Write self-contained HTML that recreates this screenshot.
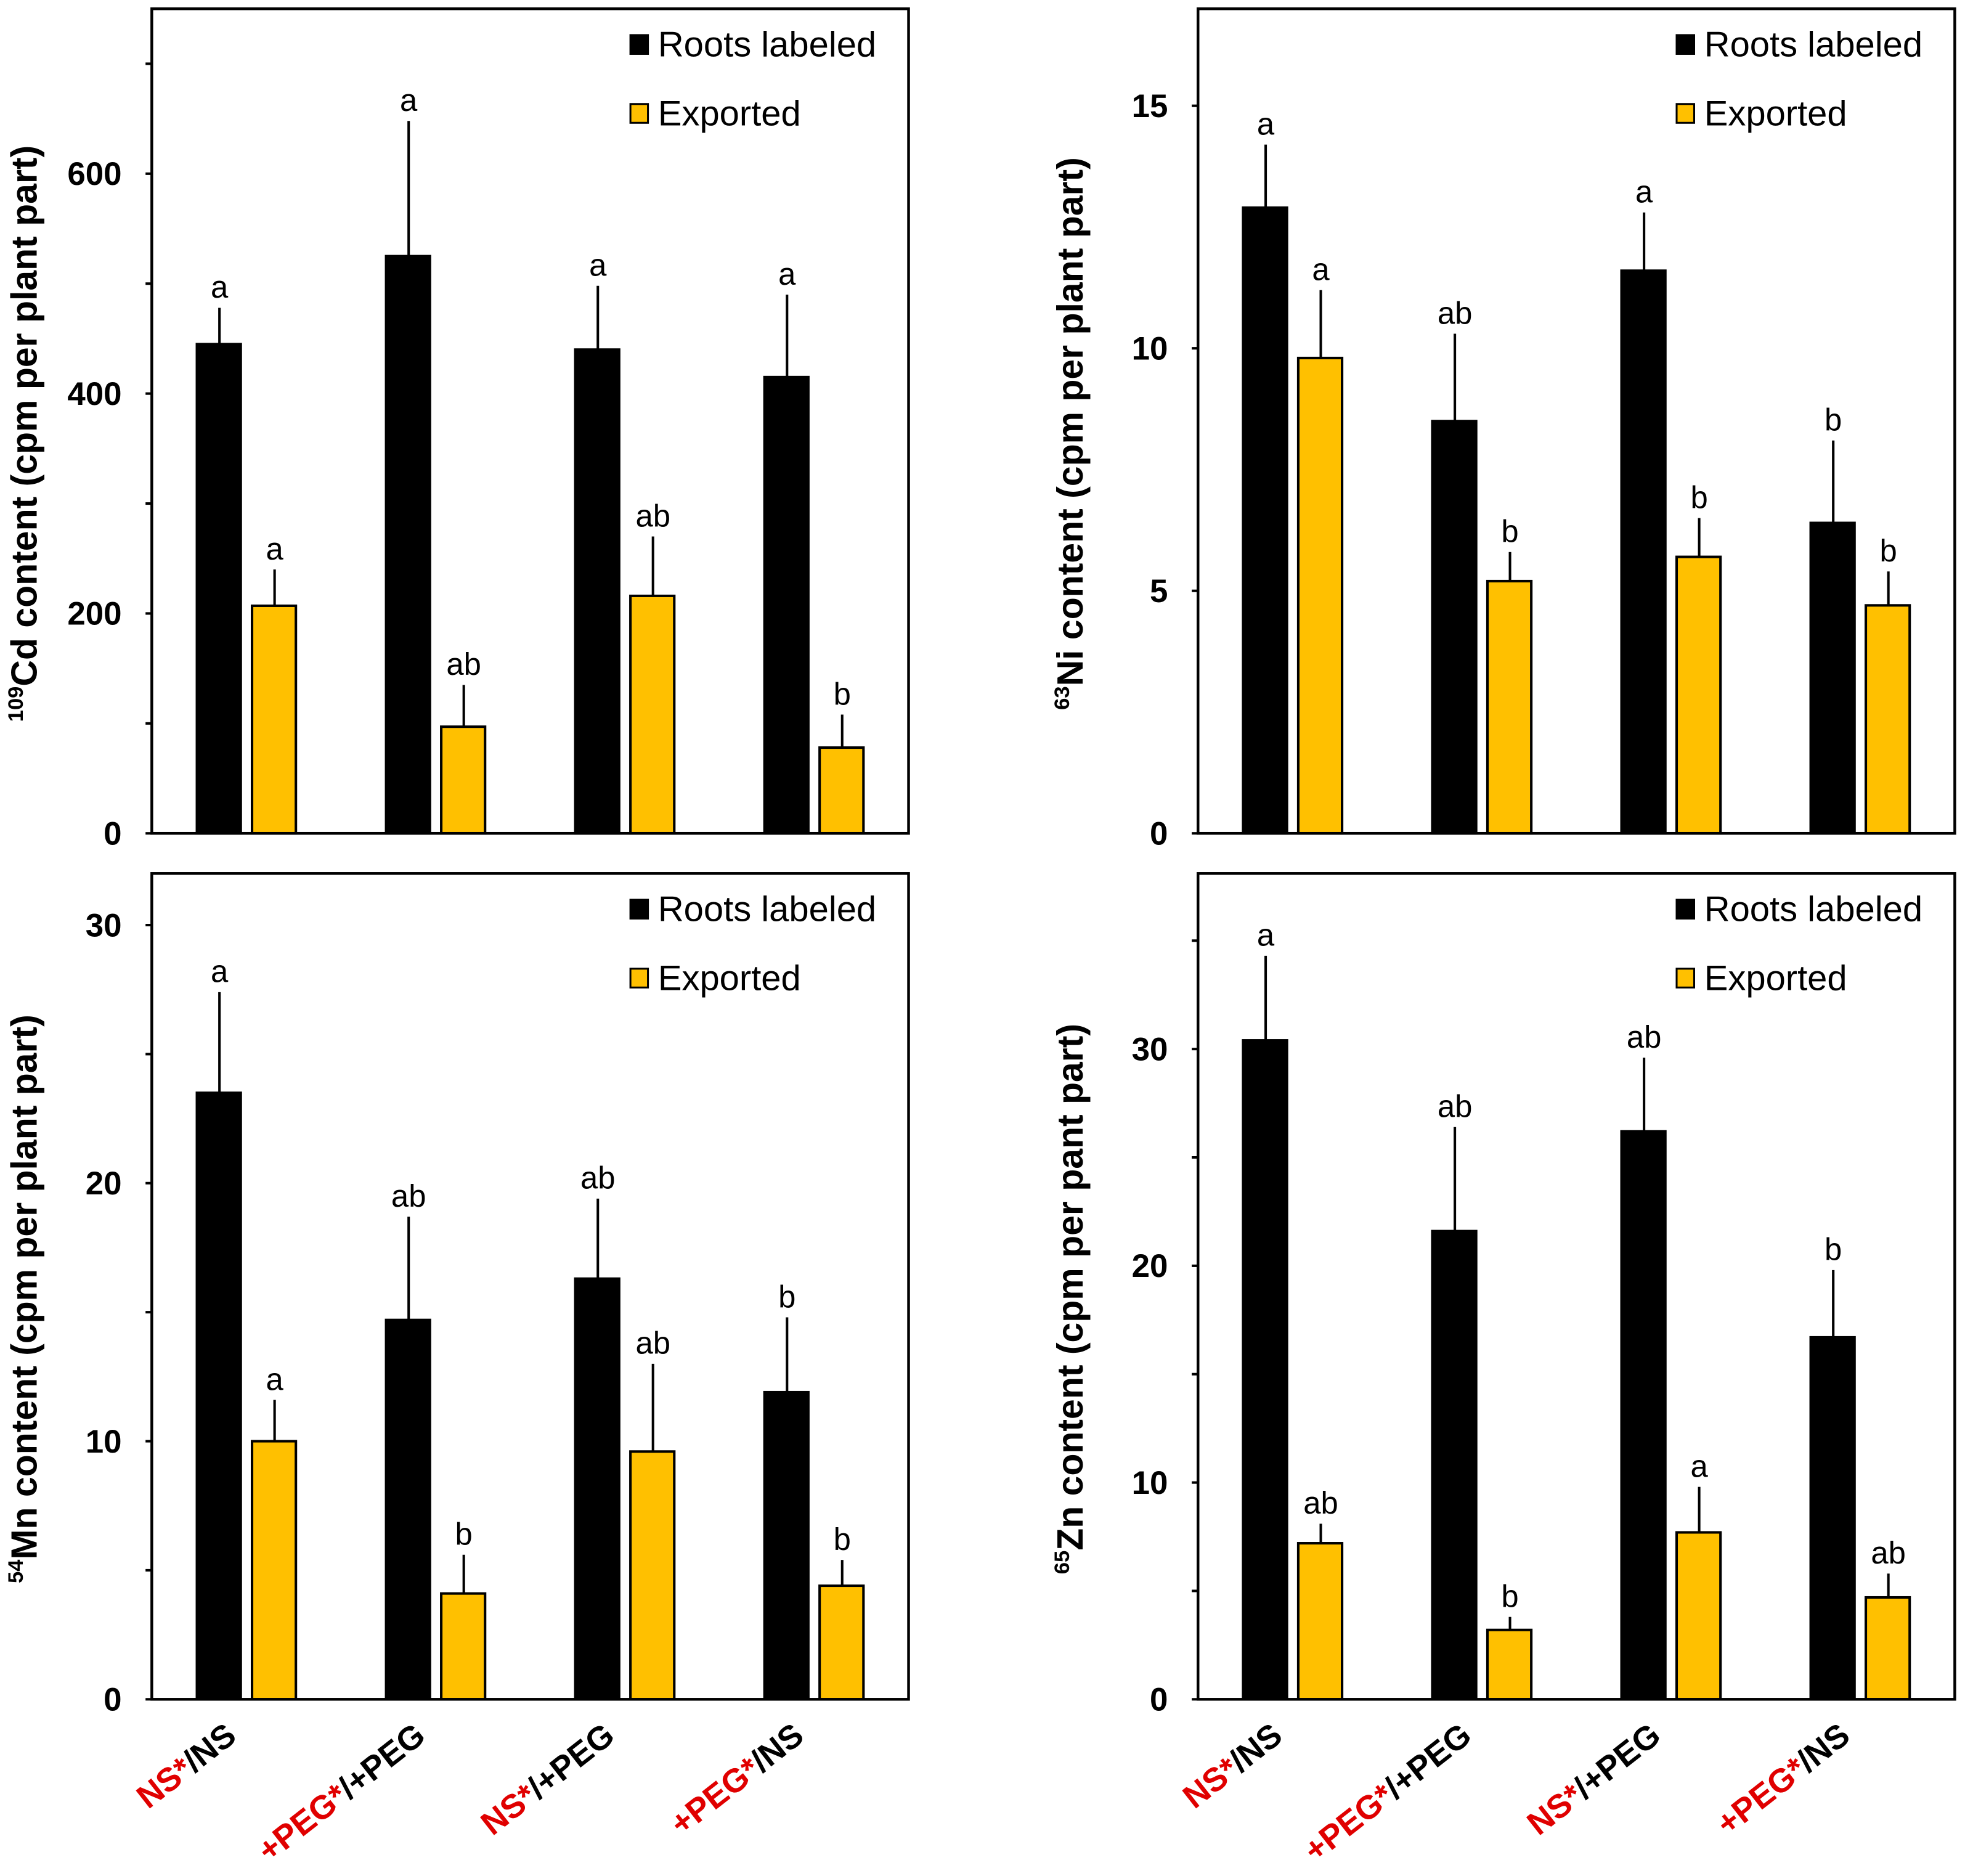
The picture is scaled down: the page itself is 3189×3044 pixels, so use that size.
<!DOCTYPE html>
<html><head><meta charset="utf-8"><style>html,body{margin:0;padding:0;background:#fff}svg{display:block}</style></head>
<body>
<svg id="fig" xmlns="http://www.w3.org/2000/svg" width="3189" height="3044" viewBox="0 0 1568 1497" font-family="'Liberation Sans', Arial, sans-serif"></svg>
<script>
const categories = ["NS*/NS", "+PEG*/+PEG", "NS*/+PEG", "+PEG*/NS"];
const cdRoots = [445, 525, 440, 415];
const cdRootsErr = [33, 123, 58, 75];
const cdExp = [207, 97, 216, 78];
const cdExpErr = [33, 38, 54, 30];
const cdRootsLetters = ["a","a","a","a"];
const cdExpLetters = ["a","ab","ab","b"];
const niRoots = [12.9, 8.5, 11.6, 6.4];
const niRootsErr = [1.3, 1.8, 1.2, 1.7];
const niExp = [9.8, 5.2, 5.7, 4.7];
const niExpErr = [1.4, 0.6, 0.8, 0.7];
const niRootsLetters = ["a","ab","a","b"];
const niExpLetters = ["a","b","b","b"];
const mnRoots = [23.5, 14.7, 16.3, 11.9];
const mnRootsErr = [3.9, 4.0, 3.1, 2.9];
const mnExp = [10.0, 4.1, 9.6, 4.4];
const mnExpErr = [1.6, 1.5, 3.4, 1.0];
const mnRootsLetters = ["a","ab","ab","b"];
const mnExpLetters = ["a","b","ab","b"];
const znRoots = [30.4, 21.6, 26.2, 16.7];
const znRootsErr = [3.9, 4.8, 3.4, 3.1];
const znExp = [7.2, 3.2, 7.7, 4.7];
const znExpErr = [0.9, 0.6, 2.1, 1.1];
const znRootsLetters = ["a","ab","ab","b"];
const znExpLetters = ["ab","b","a","ab"];
const cdTicks = [0, 200, 400, 600];
const niTicks = [0, 5, 10, 15];
const mnTicks = [0, 10, 20, 30];
const znTicks = [0, 10, 20, 30];

const NS = "http://www.w3.org/2000/svg";
const svg = document.getElementById('fig');
function el(tag, attrs, parent, text){
  const e = document.createElementNS(NS, tag);
  for (const k in attrs) e.setAttribute(k, attrs[k]);
  if (text !== undefined) e.textContent = text;
  (parent || svg).appendChild(e);
  return e;
}

function panel(o){
  const g = el('g', {});
  
  
  const L = o.left, R = o.left + 604, T = o.top, B = o.bottom;
  const y = v => B - (v / o.max) * (B - T);
  for (let v = 0; v <= o.max; v += o.minor) {
    const t = el('line', {x1: L-5, x2: L, y1: y(v), y2: y(v), stroke: '#000', 'stroke-width': 2}, g);
    
    
  }
  o.ticks.forEach(v => {
    const t = el('text', {x: L-24, y: y(v)+9, 'text-anchor': 'end', 'font-size': 26, 'font-weight': 'bold'}, g, String(v));
    
    
  });
  const yt = el('text', {transform: `translate(${L-92},${(T+B)/2+10}) rotate(-90)`, 'text-anchor': 'middle', 'font-size': 29, 'font-weight': 'bold'}, g);
  
  
  el('tspan', {'font-size': 17, dy: -11}, yt, o.iso);
  el('tspan', {dy: 11}, yt, o.title);
  const gap = 151;
  const x0 = L + 36;
  for (let i = 0; i < categories.length; i++) {
    const series = [
      {v: o.roots[i], e: o.rootsErr[i], l: o.rootsL[i], x: x0 + i*gap, fill: '#000', n: 'bar-roots'},
      {v: o.exp[i], e: o.expErr[i], l: o.expL[i], x: x0 + i*gap + 44, fill: '#FFC000', n: 'bar-exported'}
    ];
    series.forEach(s => {
      const er = el('line', {x1: s.x+18, x2: s.x+18, y1: y(s.v), y2: y(s.v+s.e), stroke: '#000', 'stroke-width': 2}, g);
      
      
      const r = el('rect', {x: s.x, y: y(s.v), width: 35, height: B - y(s.v), fill: s.fill, stroke: '#000', 'stroke-width': 2}, g);
      
      
      const lt = el('text', {x: s.x+18, y: y(s.v+s.e)-8, 'text-anchor': 'middle', 'font-size': 25}, g, s.l);
      
      
    });
    if (o.xlabels) {
      const cx = x0 + i*gap + 33;
      const parts = categories[i].split('/');
      const xl = el('text', {transform: `translate(${cx},${B+32}) rotate(-38)`, 'text-anchor': 'end', 'font-size': 26.5, 'font-weight': 'bold'}, g);
      
      
      el('tspan', {fill: '#E00000'}, xl, parts[0]);
      el('tspan', {fill: '#000'}, xl, '/' + parts[1]);
    }
  }
  const f = el('rect', {x: L, y: T, width: 604, height: B-T, fill: 'none', stroke: '#000', 'stroke-width': 2.2}, g);
  
  
  const lx = L + 382;
  const lg = el('g', {}, g);
  
  
  el('rect', {x: lx, y: T+21, width: 14, height: 15, fill: '#000', stroke: '#000', 'stroke-width': 1.5}, lg);
  const l1 = el('text', {x: lx+22, y: T+38, 'font-size': 28.5}, lg, 'Roots labeled');
  
  
  el('rect', {x: lx, y: T+76, width: 14, height: 15, fill: '#FFC000', stroke: '#000', 'stroke-width': 1.5}, lg);
  const l2 = el('text', {x: lx+22, y: T+93, 'font-size': 28.5}, lg, 'Exported');
  
  
}

panel({name:'cd-panel', left:121, top:7, bottom:665, max:750, minor:100, ticks:cdTicks, iso:'109', title:'Cd content (cpm per plant part)',
  roots:cdRoots, rootsErr:cdRootsErr, exp:cdExp, expErr:cdExpErr, rootsL:cdRootsLetters, expL:cdExpLetters, xlabels:false});
panel({name:'ni-panel', left:956, top:7, bottom:665, max:17.0, minor:5, ticks:niTicks, iso:'63', title:'Ni content (cpm per plant part)',
  roots:niRoots, rootsErr:niRootsErr, exp:niExp, expErr:niExpErr, rootsL:niRootsLetters, expL:niExpLetters, xlabels:false});
panel({name:'mn-panel', left:121, top:697, bottom:1356, max:32.0, minor:5, ticks:mnTicks, iso:'54', title:'Mn content (cpm per plant part)',
  roots:mnRoots, rootsErr:mnRootsErr, exp:mnExp, expErr:mnExpErr, rootsL:mnRootsLetters, expL:mnExpLetters, xlabels:true});
panel({name:'zn-panel', left:956, top:697, bottom:1356, max:38.1, minor:5, ticks:znTicks, iso:'65', title:'Zn content (cpm per pant part)',
  roots:znRoots, rootsErr:znRootsErr, exp:znExp, expErr:znExpErr, rootsL:znRootsLetters, expL:znExpLetters, xlabels:true});
</script>
</body></html>
